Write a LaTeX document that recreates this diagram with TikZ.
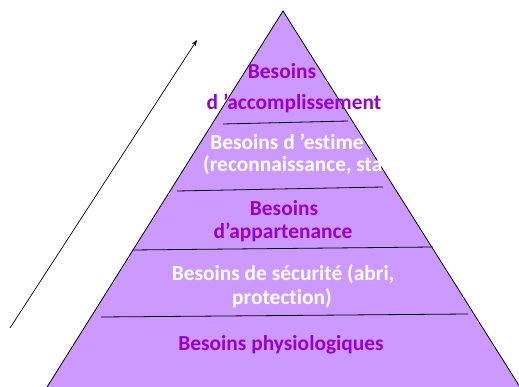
\documentclass[tikz,border=0pt]{standalone}
\usepackage{fontspec}
\setmainfont{Carlito}[Ligatures=NoCommon]
\usetikzlibrary{arrows.meta}
\definecolor{pyrfill}{HTML}{CC99FF}
\definecolor{pyrtext}{HTML}{9900CC}
\tikzset{
  lvl/.style={font=\fontsize{21.4}{24}\selectfont\bfseries, inner sep=0pt, anchor=center},
  dark/.style={lvl, text=pyrtext},
  light/.style={lvl, text=white},
  sep/.style={draw=black, line width=0.8pt},
  edge/.style={draw=black, line width=0.8pt, fill=pyrfill}
}
\begin{document}
\begin{tikzpicture}[x=1pt,y=-1pt]
\useasboundingbox (0,0) rectangle (519,387);
\clip (0,0) rectangle (519,387);
\coordinate (apex) at (283,11);
\coordinate (bl) at (42,395);
\coordinate (br) at (525,395);
\path[edge] (apex) -- (br) -- (bl) -- cycle;
% separators
\coordinate (s1a) at (223,124); \coordinate (s1b) at (348,121);
\coordinate (s2a) at (177,191); \coordinate (s2b) at (383,187);
\coordinate (s3a) at (132,250); \coordinate (s3b) at (433,247);
\coordinate (s4a) at (101,317); \coordinate (s4b) at (468,314);
\draw[sep] (s1a) -- (s1b);
\draw[sep] (s2a) -- (s2b);
\draw[sep] (s3a) -- (s3b);
\draw[sep] (s4a) -- (s4b);
% arrow
\coordinate (arrS) at (10,328);
\coordinate (arrE) at (197,40);
\draw[line width=0.7pt, -{Stealth[length=6pt,width=4.5pt]}] (arrS) -- (arrE);
% texts
\node[dark] (t1a) at (282,71) {Besoins};
\node[dark] (t1b) at (294,103) {d ’accomplissement};
\node[light] (t2a) at (287,142) {Besoins d ’estime};
\node[light, anchor=west] (t2b) at (203,165) {(reconnaissance, statut)};
\node[dark] (t3a) at (284,208) {Besoins};
\node[dark] (t3b) at (283,232) {d’appartenance};
\node[light] (t4a) at (283,274) {Besoins de sécurité (abri,};
\node[light] (t4b) at (282,298) {protection)};
\node[dark] (t5) at (281,345) {Besoins physiologiques};
\end{tikzpicture}
\end{document}
